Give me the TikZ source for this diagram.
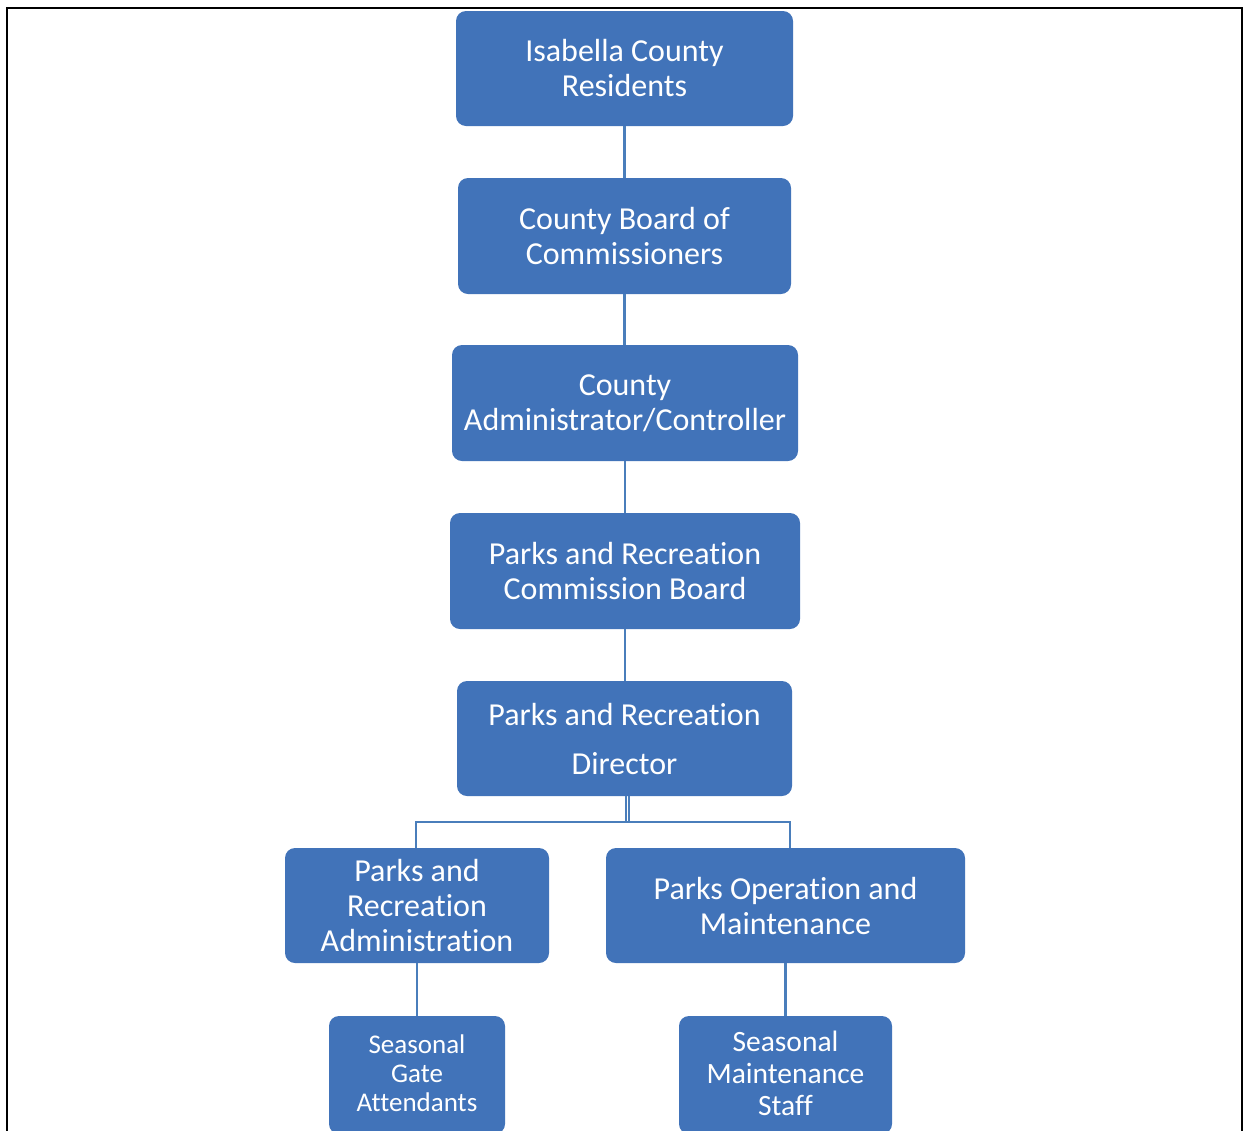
\documentclass[tikz,border=0pt]{standalone}
\usepackage{fontspec}
\setmainfont{Carlito}[Ligatures={NoCommon}]
\definecolor{boxblue}{HTML}{4173B9}
\definecolor{lineblue}{HTML}{4A7EBB}
\begin{document}
\begin{tikzpicture}[x=1pt,y=-1pt,
  box/.style={rectangle, rounded corners=10pt, fill=boxblue, draw=none, text=white,
    align=center, inner sep=0pt, font=\fontsize{32}{35}\selectfont},
  conn/.style={draw=lineblue, line width=2.8pt}]
\useasboundingbox (0,0) rectangle (1244,1130);
% frame
\draw[black, line width=2pt] (7,1140) -- (7,8) -- (1242,8) -- (1242,1140);
% boxes
\node[box, minimum width=337pt, minimum height=115pt] (res) at (624.5,68.5) {Isabella County\\Residents};
\node[box, minimum width=333pt, minimum height=116pt] (board) at (624.5,236) {County Board of\\Commissioners};
\node[box, minimum width=346pt, minimum height=116pt] (adm) at (625,403) {County\\Administrator/Controller};
\node[box, minimum width=350pt, minimum height=116pt] (comm) at (625,571) {Parks and Recreation\\Commission Board};
\node[box, minimum width=335pt, minimum height=115pt] (dir) at (624.5,738.5) {Parks and Recreation\\[14pt]Director};
\node[box, minimum width=264pt, minimum height=115pt] (pra) at (417,905.5) {Parks and\\Recreation\\Administration};
\node[box, minimum width=359pt, minimum height=115pt] (pom) at (785.5,905.5) {Parks Operation and\\Maintenance};
\node[box, minimum width=176pt, minimum height=118pt, font=\fontsize{27}{29}\selectfont] (gate) at (417,1075) {};
\node[white, font=\fontsize{27}{29}\selectfont, align=center, inner sep=0pt] (gatetxt) at (417,1073) {Seasonal\\Gate\\Attendants};
\node[box, minimum width=213pt, minimum height=118pt] (staff) at (785.5,1075) {};
\node[white, font=\fontsize{29.5}{32}\selectfont, align=center, inner sep=0pt] (stafftxt) at (785.5,1073) {Seasonal\\Maintenance\\Staff};
% connectors
\draw[conn] (res.south) -- (res.south |- board.north);
\draw[conn] (board.south) -- (board.south |- adm.north);
\draw[conn] (adm.south) -- (adm.south |- comm.north);
\draw[conn] (comm.south) -- (comm.south |- dir.north);
\coordinate (jl) at (416,822);
\coordinate (jr) at (790,822);
\draw[conn] ([xshift=1.5pt]dir.south) -- ([xshift=1.5pt]dir.south |- jl);
\draw[conn] ([xshift=4.5pt]dir.south) -- ([xshift=4.5pt]dir.south |- jl);
\draw[conn] (pra.north -| jl) -- (jl) -- (jr) -- (pom.north -| jr);
\draw[conn] (pra.south) -- (pra.south |- gate.north);
\draw[conn] (pom.south) -- (pom.south |- staff.north);
\end{tikzpicture}
\end{document}
